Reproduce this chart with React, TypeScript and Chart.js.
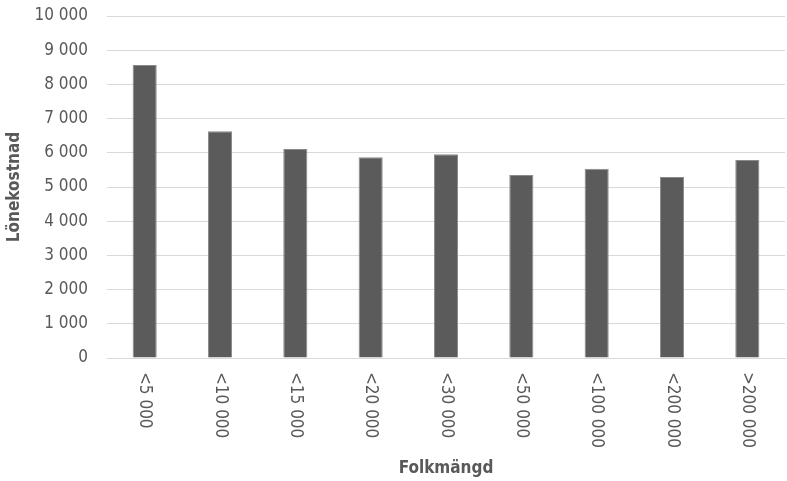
import React, { useEffect, useRef } from "react";
import { Chart, registerables } from "chart.js";

Chart.register(...registerables);

const categories = ["<5 000", "<10 000", "<15 000", "<20 000", "<30 000", "<50 000", "<100 000", "<200 000", ">200 000"];
const values = [8570, 6630, 6110, 5870, 5960, 5350, 5530, 5290, 5790];
const yTitle = "Lönekostnad";
const xTitle = "Folkmängd";

const FONT = '"Liberation Sans Narrow", "DejaVu Sans Condensed", "Arial Narrow", sans-serif';
const TEXT = "#595959";

const fmt = (v: number) => String(v).replace(/\B(?=(\d{3})+(?!\d))/g, " ");

const xLabelPlugin = {
  id: "xLabelsDown",
  afterDraw(chart: any) {
    const sx = chart.scales.x;
    const ctx = chart.ctx;
    ctx.save();
    ctx.font = `17px ${FONT}`;
    ctx.fillStyle = TEXT;
    ctx.textAlign = "left";
    ctx.textBaseline = "middle";
    categories.forEach((lab, i) => {
      const px = sx.getPixelForTick(i);
      ctx.save();
      ctx.translate(px, sx.top + 14);
      ctx.rotate(Math.PI / 2);
      ctx.fillText(lab, 0, 0);
      ctx.restore();
    });
    ctx.restore();
  },
};

export default function App() {
  const ref = useRef<HTMLCanvasElement | null>(null);
  useEffect(() => {
    if (!ref.current) return;
    const chart = new Chart(ref.current, {
      type: "bar",
      data: {
        labels: categories,
        datasets: [
          {
            data: values,
            backgroundColor: "#5b5b5b",
            borderColor: "#8a8a8a",
            borderWidth: 1,
            barPercentage: 0.32,
            categoryPercentage: 1,
          },
        ],
      },
      plugins: [xLabelPlugin],
      options: {
        animation: false,
        responsive: false,
        maintainAspectRatio: false,
        layout: { padding: { top: 16, right: 2, left: 4, bottom: 2 } },
        plugins: { legend: { display: false }, tooltip: { enabled: false } },
        scales: {
          x: {
            grid: { display: false, drawTicks: false },
            border: { color: "#d9d9d9", width: 1 },
            afterFit: (s: any) => {
              s.height = 121;
              s.paddingTop = 0;
              s.paddingLeft = 0;
              s.paddingRight = 0;
            },
            ticks: {
              color: "rgba(0,0,0,0)",
              minRotation: 90,
              maxRotation: 90,
              padding: 14,
              font: { family: FONT, size: 17 },
            },
            title: {
              display: true,
              text: xTitle,
              color: TEXT,
              font: { family: FONT, size: 17, weight: "bold" },
              padding: { top: 8, bottom: 0 },
            },
          },
          y: {
            min: 0,
            max: 10000,
            grid: { color: "#d9d9d9", lineWidth: 1, drawTicks: false },
            border: { display: false },
            afterFit: (s: any) => {
              s.width = 103;
              s.paddingTop = 0;
              s.paddingBottom = 0;
            },
            ticks: {
              stepSize: 1000,
              padding: 19,
              color: TEXT,
              font: { family: FONT, size: 17 },
              callback: (v: any) => fmt(Number(v)),
            },
            title: {
              display: true,
              text: yTitle,
              color: TEXT,
              font: { family: FONT, size: 17, weight: "bold" },
              padding: { top: 0, bottom: 0 },
            },
          },
        },
      },
    });
    return () => chart.destroy();
  }, []);
  return (
    <div style={{ position: "fixed", left: 0, top: 0, width: 787, height: 481, background: "#fff" }}>
      <canvas ref={ref} width={787} height={481} style={{ width: 787, height: 481 }} />
    </div>
  );
}
